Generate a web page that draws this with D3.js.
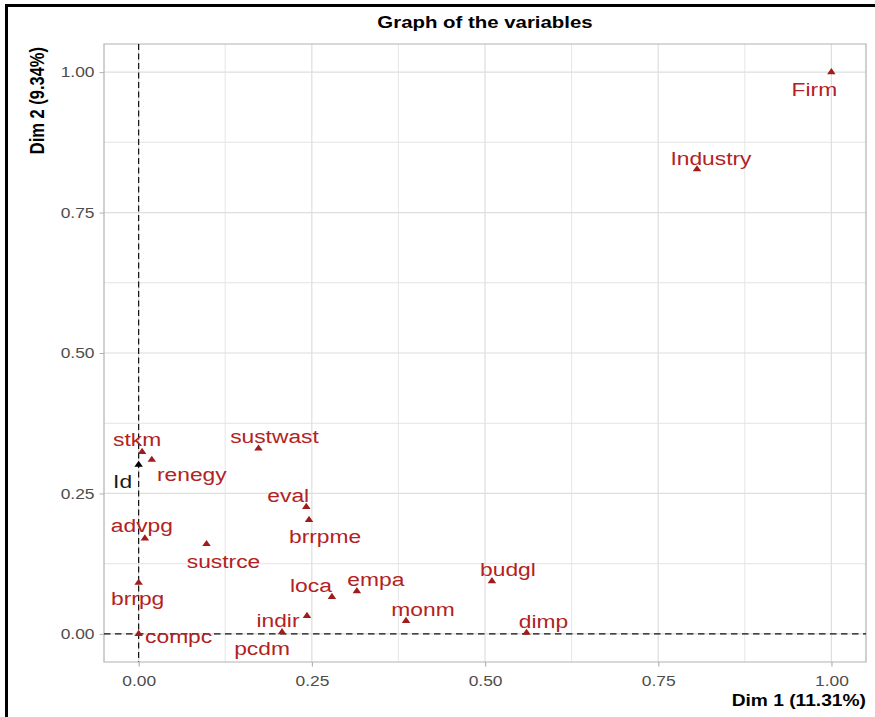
<!DOCTYPE html>
<meta charset="utf-8">
<script src="https://d3js.org/d3.v7.min.js"></script>
<style>
  body { margin: 0; background: #fff; }
</style>
<div id="my_dataviz"></div>
<script>

// variables and their coordinates on the first two dimensions
var names = ["Firm", "Industry", "sustwast", "stkm", "Id", "renegy", "eval", "brrpme", "advpg", "sustrce",
             "budgl", "brrpg", "empa", "loca", "indir", "monm", "pcdm", "dimp", "compc"]
var dim1 = [1.000, 0.806, 0.173, 0.005, 0.000, 0.019, 0.242, 0.246, 0.009, 0.098,
            0.510, 0.000, 0.315, 0.279, 0.243, 0.386, 0.207, 0.560, 0.000]
var dim2 = [1.000, 0.827, 0.330, 0.324, 0.301, 0.310, 0.226, 0.203, 0.170, 0.160,
            0.094, 0.091, 0.076, 0.066, 0.032, 0.023, 0.003, 0.002, 0.000]
var supplementary = ["Id"]

var xTicks = [0, 0.25, 0.5, 0.75, 1]
var yTicks = [0, 0.25, 0.5, 0.75, 1]
var minorTicks = [0.125, 0.375, 0.625, 0.875]

// where the repelled labels ended up, px from the point: [dx, baseline dy]
var labelShift = {
  Firm: [-17, 24], Industry: [14, -4], sustwast: [16, -5], stkm: [-5, -6], Id: [-16, 23],
  renegy: [40, 21], eval: [-18, -5], brrpme: [16, 23], advpg: [-3, -6], sustrce: [17, 24],
  budgl: [16, -5], brrpg: [-1, 22], empa: [19, -5], loca: [-21, -5], indir: [-29, 11],
  monm: [17, -5], pcdm: [-20, 23], dimp: [17, -5], compc: [40, 9]
}

var width = 875, height = 717
// the picture is a bit wider than tall, everything is stretched sideways
var S = 1.2
var font = "'Liberation Sans', Arial, sans-serif"
var red = "#B22222", redDark = "#A01C1C"

var panel = {left: 104, right: 866, top: 44, bottom: 662}

var svg = d3.select("#my_dataviz")
  .append("svg")
    .attr("width", width)
    .attr("height", height)

svg.append("rect").attr("width", width).attr("height", height).attr("fill", "#fff")

var g = svg.append("g").attr("transform", "scale(" + S + ",1)")

var x = d3.scaleLinear().domain([-0.05, 1.05]).range([panel.left / S, panel.right / S])
var y = d3.scaleLinear().domain([-0.05, 1.05]).range([panel.bottom, panel.top])

// grid
g.selectAll(".vminor").data(minorTicks).enter().append("line")
  .attr("x1", d => x(d)).attr("x2", d => x(d)).attr("y1", panel.top).attr("y2", panel.bottom)
  .attr("stroke", "#e3e3e3").attr("stroke-width", 0.8)
g.selectAll(".hminor").data(minorTicks).enter().append("line")
  .attr("y1", d => y(d)).attr("y2", d => y(d)).attr("x1", x.range()[0]).attr("x2", x.range()[1])
  .attr("stroke", "#e3e3e3").attr("stroke-width", 1)
g.selectAll(".vmajor").data(xTicks).enter().append("line")
  .attr("x1", d => x(d)).attr("x2", d => x(d)).attr("y1", panel.top).attr("y2", panel.bottom)
  .attr("stroke", "#dedede").attr("stroke-width", 1)
g.selectAll(".hmajor").data(yTicks).enter().append("line")
  .attr("y1", d => y(d)).attr("y2", d => y(d)).attr("x1", x.range()[0]).attr("x2", x.range()[1])
  .attr("stroke", "#dedede").attr("stroke-width", 1.2)

// panel border
g.append("rect")
  .attr("x", x.range()[0]).attr("y", panel.top)
  .attr("width", x.range()[1] - x.range()[0]).attr("height", panel.bottom - panel.top)
  .attr("fill", "none").attr("stroke", "#b8b8b8").attr("stroke-width", 1.1)

// axes
var xAxis = g.append("g").attr("transform", "translate(0," + panel.bottom + ")")
  .call(d3.axisBottom(x).tickValues(xTicks).tickFormat(d3.format(".2f")).tickSize(4.5).tickPadding(9))
var yAxis = g.append("g").attr("transform", "translate(" + x.range()[0] + ",0)")
  .call(d3.axisLeft(y).tickValues(yTicks).tickFormat(d3.format(".2f")).tickSize(4.5 / S).tickPadding(5 / S))
g.selectAll(".domain").remove()
g.selectAll(".tick line").attr("stroke", "#b3b3b3").attr("stroke-width", 1)
g.selectAll(".tick text").attr("fill", "#4d4d4d").style("font-family", font).style("font-size", "14.5px")

// reference lines through the origin
g.append("line")
  .attr("x1", x.range()[0]).attr("x2", x.range()[1]).attr("y1", y(0)).attr("y2", y(0))
  .attr("stroke", "#111").attr("stroke-width", 1.3).attr("stroke-dasharray", (6.5 / S) + "," + (4.5 / S))
g.append("line")
  .attr("x1", x(0)).attr("x2", x(0)).attr("y1", panel.top).attr("y2", panel.bottom)
  .attr("stroke", "#111").attr("stroke-width", 1.2 / S).attr("stroke-dasharray", "6,3.5")

var data = names.map(function(n, i) { return {name: n, d1: dim1[i], d2: dim2[i]} })
function isSup(d) { return supplementary.indexOf(d.name) >= 0 }

// triangles
g.selectAll(".pt").data(data).enter().append("path")
  .attr("d", d3.symbol().type(d3.symbolTriangle).size(22))
  .attr("transform", d => "translate(" + x(d.d1) + "," + y(d.d2) + ")")
  .attr("fill", d => isSup(d) ? "#000" : redDark)

// labels
g.selectAll(".lab").data(data).enter().append("text")
  .attr("x", d => x(d.d1) + labelShift[d.name][0] / S)
  .attr("y", d => y(d.d2) + labelShift[d.name][1])
  .attr("text-anchor", "middle")
  .style("font-family", font).style("font-size", "19px")
  .attr("fill", d => isSup(d) ? "#1a1a1a" : red)
  .text(d => d.name)

// titles
g.append("text")
  .attr("x", (panel.left + panel.right) / 2 / S).attr("y", 28)
  .attr("text-anchor", "middle")
  .style("font-family", font).style("font-size", "17px").style("font-weight", "bold")
  .text("Graph of the variables")

g.append("text")
  .attr("x", panel.right / S).attr("y", 706)
  .attr("text-anchor", "end")
  .style("font-family", font).style("font-size", "16px").style("font-weight", "bold")
  .text("Dim 1 (11.31%)")

g.append("text")
  .attr("transform", "translate(" + (44 / S) + "," + 47 + ") rotate(-90)")
  .attr("text-anchor", "end")
  .style("font-family", font).style("font-size", "16.5px").style("font-weight", "bold")
  .text("Dim 2 (9.34%)")

// frame of the screenshot
svg.append("rect").attr("x", 5).attr("y", 4).attr("width", width - 5).attr("height", 3).attr("fill", "#000")
svg.append("rect").attr("x", 5).attr("y", 4).attr("width", 3).attr("height", height - 4).attr("fill", "#000")

</script>
